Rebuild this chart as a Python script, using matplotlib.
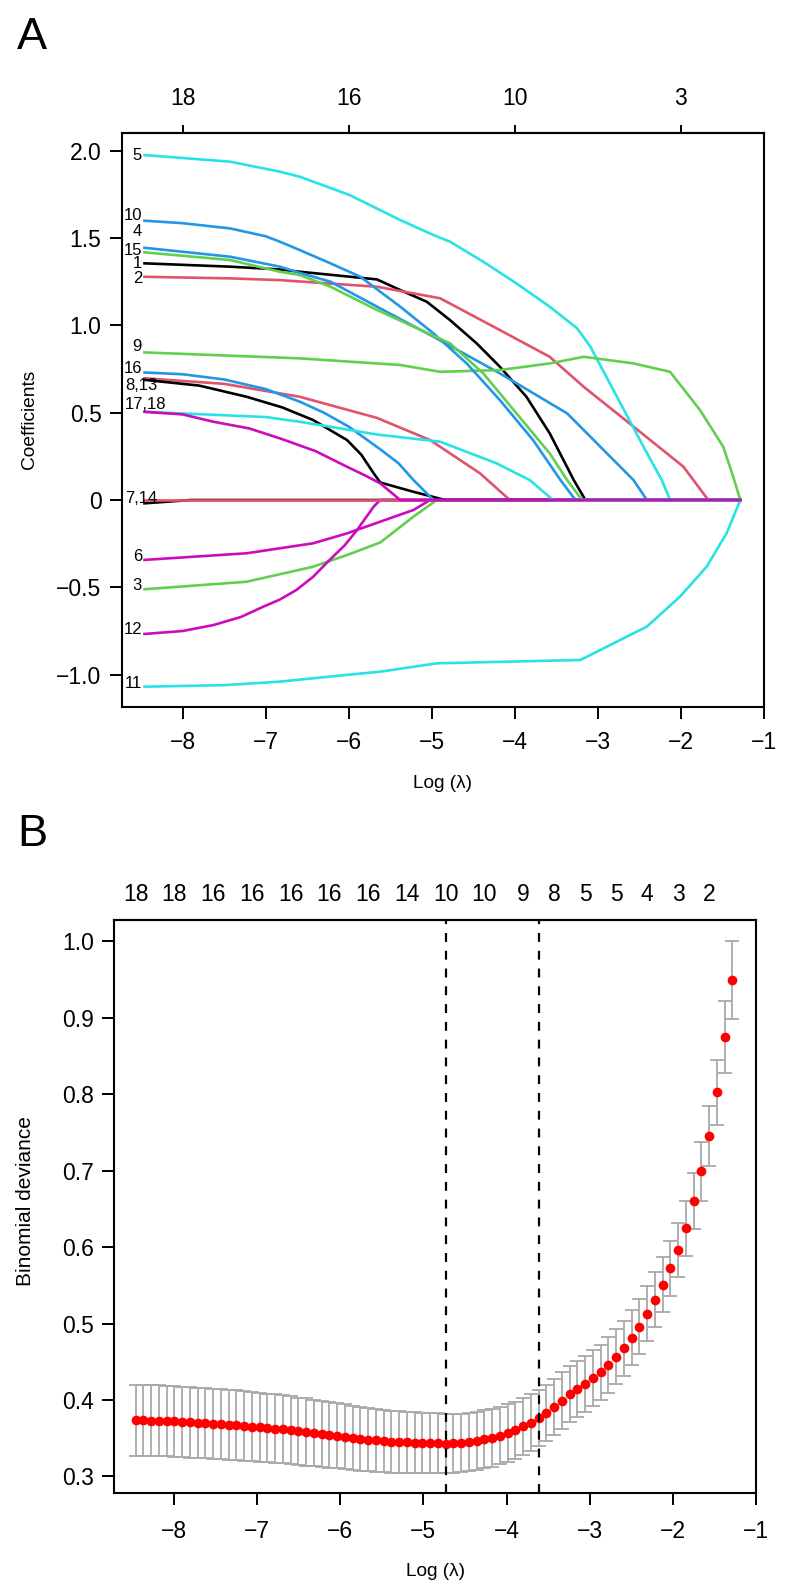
import numpy as np
import matplotlib
matplotlib.use("Agg")
import matplotlib.pyplot as plt

plt.rcParams['font.family'] = ['Liberation Sans', 'DejaVu Sans']

# log(lambda) grid of the glmnet fit (78 steps)
log_lambda = [-8.460, -8.367, -8.274, -8.180, -8.087, -7.994, -7.901, -7.808, -7.714, -7.621,
              -7.528, -7.435, -7.342, -7.248, -7.155, -7.062, -6.969, -6.876, -6.782, -6.689,
              -6.596, -6.503, -6.410, -6.316, -6.223, -6.130, -6.037, -5.944, -5.850, -5.757,
              -5.664, -5.571, -5.478, -5.384, -5.291, -5.198, -5.105, -5.012, -4.918, -4.825,
              -4.732, -4.639, -4.546, -4.452, -4.359, -4.266, -4.173, -4.080, -3.986, -3.893,
              -3.800, -3.707, -3.614, -3.520, -3.427, -3.334, -3.241, -3.148, -3.054, -2.961,
              -2.868, -2.775, -2.682, -2.588, -2.495, -2.402, -2.309, -2.216, -2.122, -2.029,
              -1.936, -1.843, -1.750, -1.656, -1.563, -1.470, -1.377, -1.284]

# ---- panel A: coefficient paths, (log lambda, coefficient) knots ----
coef_01 = [(-8.46, 1.355), (-7.43, 1.336), (-6.83, 1.32), (-6.59, 1.307), (-5.66, 1.263), (-5.38, 1.202),
           (-5.06, 1.135), (-4.78, 1.03), (-4.46, 0.897), (-4.18, 0.763), (-3.86, 0.591), (-3.58, 0.382),
           (-3.29, 0.114), (-3.15, 0.0)]
coef_02 = [(-8.46, 1.278), (-7.43, 1.269), (-6.83, 1.259), (-5.66, 1.221), (-4.9, 1.155), (-4.18, 0.973),
           (-3.58, 0.82), (-3.17, 0.648), (-2.57, 0.42), (-1.97, 0.191), (-1.67, 0.0)]
coef_03 = [(-8.46, -0.511), (-7.23, -0.468), (-6.43, -0.382), (-6.02, -0.315), (-5.62, -0.243),
           (-5.22, -0.095), (-4.94, 0.0)]
coef_04 = [(-8.46, 1.444), (-7.43, 1.393), (-6.83, 1.336), (-6.59, 1.30), (-6.22, 1.25), (-5.66, 1.107),
           (-4.98, 0.935), (-4.18, 0.725), (-3.37, 0.496), (-2.57, 0.114), (-2.41, 0.0)]
coef_05 = [(-8.46, 1.975), (-7.43, 1.937), (-6.83, 1.88), (-6.59, 1.851), (-5.99, 1.746), (-5.38, 1.603),
           (-4.98, 1.517), (-4.78, 1.479), (-4.38, 1.364), (-3.98, 1.24), (-3.58, 1.107), (-3.25, 0.983),
           (-3.09, 0.878), (-2.77, 0.591), (-2.45, 0.305), (-2.23, 0.114), (-2.13, 0.0)]
coef_06 = [(-8.46, -0.343), (-7.23, -0.305), (-6.43, -0.248), (-6.02, -0.191), (-5.62, -0.124),
           (-5.22, -0.057), (-5.02, 0.0)]
coef_07 = [(-8.46, -0.019), (-7.9, 0.0)]
coef_08 = [(-8.46, 0.697), (-7.5, 0.665), (-6.59, 0.591), (-5.66, 0.47), (-5.02, 0.343), (-4.42, 0.153),
           (-4.06, 0.0)]
coef_09 = [(-8.46, 0.845), (-6.59, 0.811), (-5.38, 0.773), (-4.9, 0.734), (-4.18, 0.744), (-3.58, 0.782),
           (-3.17, 0.82), (-2.57, 0.782), (-2.13, 0.734), (-1.77, 0.515), (-1.49, 0.305), (-1.37, 0.133),
           (-1.284, 0.0)]
coef_10 = [(-8.46, 1.599), (-8.0, 1.585), (-7.43, 1.555), (-7.0, 1.51), (-6.83, 1.479), (-6.59, 1.431),
           (-6.22, 1.355), (-5.86, 1.278), (-5.38, 1.107), (-4.98, 0.954), (-4.58, 0.782), (-4.18, 0.572),
           (-3.78, 0.343), (-3.45, 0.114), (-3.27, 0.0)]
coef_11 = [(-8.46, -1.069), (-7.5, -1.06), (-6.83, -1.04), (-6.0, -1.0), (-5.62, -0.983), (-4.94, -0.935),
           (-3.21, -0.916), (-2.41, -0.725), (-2.01, -0.553), (-1.69, -0.382), (-1.45, -0.191), (-1.284, 0.0)]
coef_12 = [(-8.46, -0.767), (-8.0, -0.75), (-7.63, -0.716), (-7.3, -0.67), (-7.03, -0.611), (-6.83, -0.57),
           (-6.63, -0.515), (-6.43, -0.44), (-6.23, -0.343), (-6.05, -0.26), (-5.9, -0.172), (-5.7, -0.038),
           (-5.62, 0.0)]
coef_13 = [(-8.46, 0.688), (-7.8, 0.655), (-7.23, 0.591), (-6.8, 0.53), (-6.43, 0.458), (-6.02, 0.343),
           (-5.85, 0.26), (-5.7, 0.153), (-5.62, 0.10), (-5.22, 0.047), (-4.84, 0.0)]
coef_14 = [(-8.46, 0.0)]
coef_15 = [(-8.46, 1.418), (-7.43, 1.374), (-6.83, 1.307), (-6.59, 1.288), (-6.22, 1.221), (-5.66, 1.088),
           (-4.78, 0.897), (-4.38, 0.725), (-3.98, 0.496), (-3.58, 0.267), (-3.37, 0.114), (-3.19, 0.0)]
coef_16 = [(-8.46, 0.73), (-8.0, 0.72), (-7.5, 0.69), (-7.0, 0.635), (-6.59, 0.563), (-6.3, 0.50),
           (-6.0, 0.42), (-5.62, 0.29), (-5.4, 0.21), (-5.22, 0.114), (-4.98, 0.0)]
coef_17 = [(-8.46, 0.505), (-7.0, 0.475), (-6.59, 0.448), (-5.66, 0.375), (-4.9, 0.334), (-4.22, 0.21),
           (-3.82, 0.114), (-3.54, 0.0)]
coef_18 = [(-8.46, 0.505), (-8.0, 0.49), (-7.63, 0.448), (-7.2, 0.41), (-6.83, 0.353), (-6.4, 0.28),
           (-6.02, 0.19), (-5.8, 0.14), (-5.62, 0.095), (-5.38, 0.0)]

path_labels = ['5', '10', '4', '15', '1', '2', '9', '16', '8,13', '17,18', '7,14', '6', '3', '12', '11']
path_label_y = [1.975, 1.63, 1.54, 1.43, 1.355, 1.269, 0.878, 0.754, 0.658, 0.544, 0.01,
                -0.324, -0.492, -0.744, -1.049]

df_ticks_a = [-8, -6, -4, -2]
df_labels_a = ['18', '16', '10', '3']

# ---- panel B: cross-validated binomial deviance ----
cv_mean = [0.3734, 0.3734, 0.3730, 0.3730, 0.3725, 0.3721, 0.3712, 0.3708, 0.3703, 0.3695,
           0.3686, 0.3682, 0.3673, 0.3669, 0.3660, 0.3651, 0.3643, 0.3634, 0.3625, 0.3616,
           0.3603, 0.3590, 0.3581, 0.3568, 0.3559, 0.3547, 0.3533, 0.3520, 0.3507, 0.3494,
           0.3481, 0.3472, 0.3463, 0.3455, 0.3450, 0.3446, 0.3442, 0.3438, 0.3437, 0.3434,
           0.3430, 0.3433, 0.3437, 0.3446, 0.3464, 0.3490, 0.3507, 0.3533, 0.3568, 0.3603,
           0.3655, 0.3704, 0.3765, 0.3830, 0.3910, 0.3992, 0.4075, 0.4145, 0.4210, 0.4284,
           0.4363, 0.4460, 0.4565, 0.4678, 0.4814, 0.4958, 0.5128, 0.5312, 0.5510, 0.5722,
           0.5967, 0.6250, 0.6600, 0.6990, 0.7456, 0.8025, 0.8746, 0.9500]
cv_sd = [0.0460, 0.0460, 0.0460, 0.0460, 0.0460, 0.0460, 0.0460, 0.0460, 0.0460, 0.0460,
         0.0460, 0.0460, 0.0460, 0.0458, 0.0456, 0.0454, 0.0452, 0.0450, 0.0448, 0.0446,
         0.0444, 0.0442, 0.0439, 0.0436, 0.0433, 0.0430, 0.0427, 0.0424, 0.0421, 0.0418,
         0.0415, 0.0412, 0.0409, 0.0406, 0.0403, 0.0400, 0.0397, 0.0394, 0.0392, 0.0390,
         0.0388, 0.0385, 0.0383, 0.0381, 0.0380, 0.0378, 0.0377, 0.0376, 0.0375, 0.0374,
         0.0373, 0.0372, 0.0371, 0.0370, 0.0369, 0.0368, 0.0367, 0.0366, 0.0365, 0.0364,
         0.0363, 0.0362, 0.0361, 0.0360, 0.0360, 0.0359, 0.0358, 0.0357, 0.0356, 0.0355,
         0.0355, 0.0360, 0.0367, 0.0380, 0.0390, 0.0425, 0.0470, 0.0510]
lambda_min = -4.73
lambda_1se = -3.61
df_label_idx = [0, 5, 10, 15, 20, 25, 30, 35, 40, 45, 50, 54, 58, 62, 66, 70, 74]
df_labels_b = ['18', '18', '16', '16', '16', '16', '16', '14', '10', '10', '9', '8', '5', '5', '4', '3', '2']

palette = ['#000000', '#DF536B', '#61D04F', '#2297E6', '#28E2E5', '#CD0BBC']
minus_ticks = ['\u22128', '\u22127', '\u22126', '\u22125', '\u22124', '\u22123', '\u22122', '\u22121']


def style_box(ax, xpad):
    for s in ax.spines.values():
        s.set_linewidth(1.5)
    ax.tick_params(direction='out', length=8.5, width=1.4, labelsize=16.5)
    ax.tick_params(axis='x', pad=xpad)
    ax.tick_params(axis='y', pad=6)


fig = plt.figure(figsize=(7.89, 15.93), dpi=100)

# panel A
ax1 = fig.add_axes([0.1542, 0.5562, 0.8140, 0.3605])
paths = [coef_01, coef_02, coef_03, coef_04, coef_05, coef_06, coef_07, coef_08, coef_09,
         coef_10, coef_11, coef_12, coef_13, coef_14, coef_15, coef_16, coef_17, coef_18]
for k, p in enumerate(paths):
    xs = [a for a, b in p]
    ys = [b for a, b in p]
    if xs[-1] < log_lambda[-1]:
        xs.append(log_lambda[-1])
        ys.append(0.0)
    ax1.plot(xs, ys, color=palette[k % 6], lw=1.9, solid_joinstyle='round')
for t, y in zip(path_labels, path_label_y):
    if ',' in t:
        # long labels are pushed inside the box, as in the R output
        ax1.text(-8.695, y, t, ha='left', va='center', fontsize=12)
    else:
        ax1.text(-8.49, y, t, ha='right', va='center', fontsize=12)
ax1.set_xlim(-8.735, -1.0)
ax1.set_ylim(-1.185, 2.103)
ax1.set_xticks(range(-8, 0))
ax1.set_xticklabels(minus_ticks)
ax1.set_yticks([2.0, 1.5, 1.0, 0.5, 0.0, -0.5, -1.0])
ax1.set_yticklabels(['2.0', '1.5', '1.0', '0.5', '0', '\u22120.5', '\u22121.0'])
style_box(ax1, 9)
ax1.set_xlabel('Log (\u03bb)', fontsize=13.7, labelpad=15)
ax1.set_ylabel('Coefficients', fontsize=13.8)
ax1.yaxis.set_label_coords(-0.131, 0.5)
top1 = ax1.secondary_xaxis('top')
top1.set_xticks(df_ticks_a)
top1.set_xticklabels(df_labels_a)
top1.tick_params(direction='out', length=5.5, width=1.4, labelsize=16.5, pad=10.5)
top1.spines['top'].set_linewidth(1.5)

# panel B
ax2 = fig.add_axes([0.1445, 0.0626, 0.8137, 0.3599])
ax2.errorbar(log_lambda, cv_mean, yerr=cv_sd, fmt='none', ecolor='darkgrey',
             elinewidth=1.3, capsize=5, capthick=1.3)
ax2.plot(log_lambda, cv_mean, 'o', color='red', markersize=7, markeredgewidth=0)
ax2.axvline(lambda_min, color='black', lw=1.6, ls=(0, (4, 4)))
ax2.axvline(lambda_1se, color='black', lw=1.6, ls=(0, (4, 4)))
ax2.set_xlim(-8.72, -1.0)
ax2.set_ylim(0.278, 1.028)
ax2.set_xticks(range(-8, 0))
ax2.set_xticklabels(minus_ticks)
ax2.set_yticks([0.3, 0.4, 0.5, 0.6, 0.7, 0.8, 0.9, 1.0])
ax2.set_yticklabels(['0.3', '0.4', '0.5', '0.6', '0.7', '0.8', '0.9', '1.0'])
style_box(ax2, 11)
ax2.set_xlabel('Log (\u03bb)', fontsize=13.7, labelpad=14)
ax2.set_ylabel('Binomial deviance', fontsize=15)
ax2.yaxis.set_label_coords(-0.123, 0.51)
top2 = ax2.secondary_xaxis('top')
top2.set_xticks([log_lambda[i] for i in df_label_idx])
top2.set_xticklabels(df_labels_b)
top2.tick_params(length=0, labelsize=16.5, pad=10)
top2.spines['top'].set_linewidth(1.5)

fig.text(17 / 789, 1 - 48.7 / 1593, 'A', fontsize=32.5, va='baseline', ha='left')
fig.text(17 / 789, 1 - 846 / 1593, 'B', fontsize=32.5, va='baseline', ha='left')

fig.savefig('out.png', dpi=100)
